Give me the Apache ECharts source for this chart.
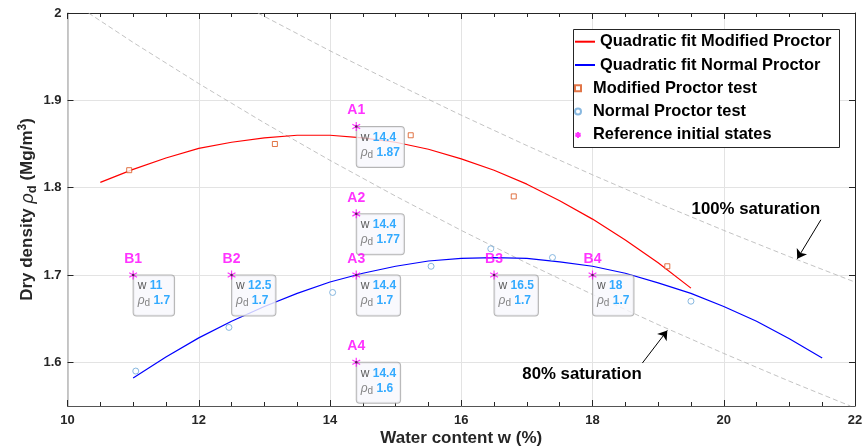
<!DOCTYPE html>
<html><head><meta charset="utf-8">
<script src="https://cdn.jsdelivr.net/npm/echarts@6/dist/echarts.min.js"></script>
<style>html,body{margin:0;padding:0;background:#fff}#c{width:863px;height:448px}</style>
</head><body><div id="c"></div>
<script>
// ---- data ----
const xTicks = [10, 12, 14, 16, 18, 20, 22];
const yTicks = [1.6, 1.7, 1.8, 1.9, 2];

const fitModW   = [10.5, 11, 11.5, 12, 12.5, 13, 13.5, 14, 14.5, 15, 15.5, 16, 16.5, 17, 17.5, 18, 18.5, 19, 19.5];
const fitModRho = [1.806, 1.821, 1.834, 1.845, 1.852, 1.857, 1.860, 1.860, 1.857, 1.852, 1.844, 1.833, 1.820, 1.804, 1.785, 1.764, 1.740, 1.714, 1.685];

const fitNormW   = [11, 11.5, 12, 12.5, 13, 13.5, 14, 14.5, 15, 15.5, 16, 16.5, 17, 17.5, 18, 18.5, 19, 19.5, 20, 20.5, 21, 21.5];
const fitNormRho = [1.582, 1.606, 1.628, 1.647, 1.664, 1.679, 1.692, 1.702, 1.710, 1.716, 1.719, 1.720, 1.719, 1.715, 1.710, 1.702, 1.691, 1.679, 1.664, 1.647, 1.627, 1.605];

const modW   = [10.94, 13.16, 15.23, 16.80, 19.14];
const modRho = [1.82, 1.85, 1.86, 1.79, 1.71];

const normW   = [11.04, 12.46, 14.04, 15.54, 16.45, 17.39, 19.50];
const normRho = [1.59, 1.64, 1.68, 1.71, 1.73, 1.72, 1.67];

const refNames = ['A1', 'A2', 'A3', 'A4', 'B1', 'B2', 'B3', 'B4'];
const refW     = [14.4, 14.4, 14.4, 14.4, 11, 12.5, 16.5, 18];
const refRho   = [1.87, 1.77, 1.7, 1.6, 1.7, 1.7, 1.7, 1.7];

const sat100W   = [12.9, 14, 15, 16, 17, 18, 19, 20, 21, 22];
const sat100Rho = [2.0, 1.9567, 1.9192, 1.8830, 1.8482, 1.8147, 1.7823, 1.7511, 1.7210, 1.6919];
const sat80W    = [10.32, 11, 12, 13, 14, 15, 16, 17, 18, 19, 20, 21, 21.93];
const sat80Rho  = [2.0, 1.9663, 1.9192, 1.8742, 1.8313, 1.7903, 1.7511, 1.7136, 1.6777, 1.6432, 1.6102, 1.5784, 1.55];

const annLabels = ['100% saturation', '80% saturation'];
const annTextW   = [20.49, 17.84];
const annTextRho = [1.7757, 1.5858];
const annTailW   = [21.48, 18.76];
const annTailRho = [1.7632, 1.5992];
const annHeadW   = [21.12, 19.14];
const annHeadRho = [1.7185, 1.6365];

// ---- chart ----
const FONT = "'Liberation Sans', Arial, sans-serif";
const pairs = (xs, ys) => xs.map((x, i) => [x, ys[i]]);
const starPath = 'path://M5,0L5,10M0.67,2.5L9.33,7.5M0.67,7.5L9.33,2.5';
const squarePath = 'path://M0,0L10,0L10,10L0,10Z';

const chart = echarts.init(document.getElementById('c'), null, {renderer: 'canvas'});

const axisDark = '#262626';
const gridColor = '#e3e3e3';
const legendText = {fontSize: 16.4, fontWeight: 'bold', color: '#000', lineHeight: 18, fontFamily: FONT};

const option = {
  animation: false,
  backgroundColor: '#fff',
  textStyle: {fontFamily: FONT},
  grid: {left: 67.5, right: 8, top: 13, bottom: 42, containLabel: false, outerBoundsMode: 'none'},
  graphic: [{
    type: 'rect', z: 5, silent: true,
    shape: {x: 573.5, y: 29.5, width: 266, height: 118},
    style: {fill: '#fff', stroke: axisDark, lineWidth: 1}
  }],
  legend: [{
    z: 10, orient: 'vertical', left: 574, top: 32.7, padding: 0,
    itemWidth: 20, itemHeight: 14, itemGap: 5.3,
    textStyle: legendText,
    data: [
      {name: 'Quadratic fit Modified Proctor', itemStyle: {opacity: 0}},
      {name: 'Quadratic fit Normal Proctor', itemStyle: {opacity: 0}}
    ]
  }, {
    z: 10, orient: 'vertical', left: 574, top: 79.3, padding: 0,
    itemWidth: 20, itemHeight: 6, itemGap: 5.3,
    textStyle: legendText,
    data: ['Modified Proctor test', 'Normal Proctor test', 'Reference initial states']
  }],
  xAxis: [{
    type: 'value', min: 10, max: 22, interval: 2, position: 'bottom',
    name: 'Water content w (%)', nameLocation: 'middle', nameGap: 24, nameMoveOverlap: false,
    nameTextStyle: {fontSize: 17, fontWeight: 'bold', color: axisDark, fontFamily: FONT},
    axisLine: {show: true, lineStyle: {color: '#555', width: 1}},
    axisTick: {show: true, inside: true, length: 6, lineStyle: {color: axisDark}},
    minorTick: {show: true, splitNumber: 4, length: 4, lineStyle: {color: axisDark}},
    axisLabel: {fontSize: 13, fontWeight: 'bold', color: axisDark, margin: 8, fontFamily: FONT},
    splitLine: {show: true, lineStyle: {color: gridColor, width: 1}},
    minorSplitLine: {show: false}
  }, {
    type: 'value', min: 10, max: 22, interval: 2, position: 'top',
    axisLine: {show: true, onZero: false, lineStyle: {color: axisDark, width: 1}},
    axisTick: {show: true, inside: true, length: 6, lineStyle: {color: axisDark}},
    minorTick: {show: true, splitNumber: 4, length: 4, lineStyle: {color: axisDark}},
    axisLabel: {show: false}, splitLine: {show: false}
  }],
  yAxis: [{
    type: 'value', min: 1.55, max: 2, position: 'left',
    name: '{b|Dry density }{i|ρ}{sub|d}{b| (Mg/m}{sup|3}{b|)}',
    nameLocation: 'middle', nameGap: 29, nameMoveOverlap: false,
    nameTextStyle: {
      fontFamily: FONT,
      rich: {
        b: {fontSize: 17, fontWeight: 'bold', color: axisDark, lineHeight: 22, fontFamily: FONT},
        i: {fontSize: 18, fontStyle: 'italic', color: axisDark, lineHeight: 22, fontFamily: FONT},
        sub: {fontSize: 13, fontWeight: 'bold', color: axisDark, lineHeight: 22, verticalAlign: 'bottom', fontFamily: FONT},
        sup: {fontSize: 12, fontWeight: 'bold', color: axisDark, lineHeight: 22, verticalAlign: 'top', fontFamily: FONT}
      }
    },
    axisLine: {show: true, onZero: false, lineStyle: {color: '#b8b8b8', width: 1.5}},
    axisTick: {show: true, inside: true, length: 6, customValues: yTicks, lineStyle: {color: axisDark}},
    axisLabel: {fontSize: 13, fontWeight: 'bold', color: axisDark, margin: 6, customValues: yTicks,
      formatter: v => String(Math.round(v * 10) / 10), fontFamily: FONT},
    splitLine: {show: true, lineStyle: {color: gridColor, width: 1}}
  }, {
    type: 'value', min: 1.55, max: 2, position: 'right',
    axisLine: {show: true, onZero: false, lineStyle: {color: axisDark, width: 1}},
    axisTick: {show: true, inside: true, length: 6, customValues: yTicks, lineStyle: {color: axisDark}},
    axisLabel: {show: false}, splitLine: {show: false}
  }],
  series: [
    {
      name: '100% saturation line', type: 'line', z: 2, symbol: 'none', silent: true,
      data: pairs(sat100W, sat100Rho),
      lineStyle: {color: '#b4b4b4', width: 0.8, type: [5, 3]},
      markLine: {
        silent: true, symbol: ['none', 'arrow'], symbolSize: 9,
        lineStyle: {color: '#000', width: 1, type: 'solid'},
        label: {show: false},
        data: annLabels.map((t, i) => [{coord: [annTailW[i], annTailRho[i]]}, {coord: [annHeadW[i], annHeadRho[i]]}])
      },
      markPoint: {
        silent: true, symbol: 'circle', symbolSize: 0,
        label: {show: true, position: 'inside', formatter: '{b}', fontSize: 16.8, fontWeight: 'bold', color: '#000', fontFamily: FONT},
        data: annLabels.map((t, i) => ({name: t, coord: [annTextW[i], annTextRho[i]]}))
      }
    },
    {
      name: '80% saturation line', type: 'line', z: 2, symbol: 'none', silent: true,
      data: pairs(sat80W, sat80Rho),
      lineStyle: {color: '#b4b4b4', width: 0.8, type: [5, 3]}
    },
    {
      name: 'Quadratic fit Modified Proctor', type: 'line', z: 3, symbol: 'none', showSymbol: false,
      data: pairs(fitModW, fitModRho), color: '#ff0000',
      lineStyle: {color: '#ff0000', width: 1.2}, itemStyle: {color: '#ff0000'}
    },
    {
      name: 'Quadratic fit Normal Proctor', type: 'line', z: 3, symbol: 'none', showSymbol: false,
      data: pairs(fitNormW, fitNormRho), color: '#0000ff',
      lineStyle: {color: '#0000ff', width: 1.2}, itemStyle: {color: '#0000ff'}
    },
    {
      name: 'Modified Proctor test', type: 'scatter', z: 4, symbol: squarePath, symbolSize: 5,
      symbolKeepAspect: true,
      data: pairs(modW, modRho),
      itemStyle: {color: '#fff', borderColor: '#D95319', borderWidth: 1}
    },
    {
      name: 'Normal Proctor test', type: 'scatter', z: 4, symbol: 'circle', symbolSize: 6,
      data: pairs(normW, normRho),
      itemStyle: {color: '#fff', borderColor: '#6aa6d8', borderWidth: 1}
    },
    {
      name: 'datatips', type: 'scatter', z: 6, symbolSize: 1, silent: true,
      itemStyle: {color: 'rgba(0,0,0,0)'},
      data: refNames.map((n, i) => ({name: n, value: [refW[i], refRho[i]]})),
      label: {
        show: true, position: [1, 1],
        backgroundColor: '#f8f8fc', borderColor: '#a3a3a3', borderWidth: 1, borderRadius: 3,
        padding: [3, 4, 7, 4],
        formatter: p => '{k|w} {v|' + refW[p.dataIndex] + '}\n{r|ρ}{s|d} {v|' + refRho[p.dataIndex] + '}',
        rich: {
          k: {fontSize: 12, color: '#333', lineHeight: 15, fontFamily: FONT},
          v: {fontSize: 12, fontWeight: 'bold', color: '#0096ff', lineHeight: 15, fontFamily: FONT},
          r: {fontSize: 12, fontStyle: 'italic', color: '#666', lineHeight: 15, fontFamily: FONT},
          s: {fontSize: 10, color: '#666', lineHeight: 15, verticalAlign: 'bottom', fontFamily: FONT}
        }
      }
    },
    {
      name: 'Reference initial states', type: 'scatter', z: 7, symbol: starPath, symbolSize: 9,
      symbolKeepAspect: true,
      data: refNames.map((n, i) => ({name: n, value: [refW[i], refRho[i]]})),
      itemStyle: {color: '#ff00ff', borderColor: '#ff00ff', borderWidth: 1.2},
      label: {show: true, position: 'top', distance: 4, formatter: '{b}',
        fontSize: 14, fontWeight: 'bold', color: '#ff00ff', fontFamily: FONT}
    },
    {
      name: 'dots', type: 'scatter', z: 8, symbol: 'circle', symbolSize: 2.5, silent: true,
      data: pairs(refW, refRho), itemStyle: {color: '#222'}
    }
  ]
};
chart.setOption(option);
</script>
</body></html>
